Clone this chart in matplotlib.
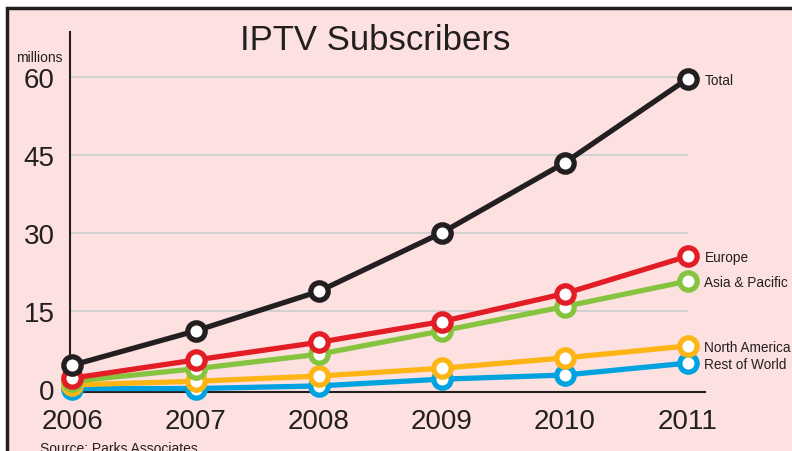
import matplotlib.pyplot as plt
from matplotlib.patches import Rectangle

plt.rcParams['font.family'] = ['Liberation Sans', 'DejaVu Sans']

# values (millions of subscribers)
years = [2006, 2007, 2008, 2009, 2010, 2011]
total = [4.5, 11.1, 18.7, 30.0, 43.5, 59.7]
europe = [2.0, 5.5, 8.9, 12.9, 18.3, 25.5]
asia_pacific = [1.4, 3.8, 6.6, 11.1, 15.8, 20.7]
north_america = [0.7, 1.4, 2.4, 3.9, 5.9, 8.2]
rest_of_world = [0.0, 0.0, 0.5, 1.8, 2.6, 4.9]

yticks = [0, 15, 30, 45, 60]

bg = '#fde1e1'
dark = '#231f20'

fig = plt.figure(figsize=(7.92, 4.52), dpi=100, facecolor='white')
# pink panel with dark frame (cut off at right and bottom)
fig.patches.append(Rectangle((7 / 792, -0.05), 1.1, (452 - 9) / 452 + 0.05,
                             transform=fig.transFigure, facecolor=bg,
                             edgecolor=dark, linewidth=2.5, zorder=-5))

ax = fig.add_axes([70 / 792, (452 - 393) / 452, 635 / 792, 360 / 452])
ax.set_facecolor('none')
ax.set_xlim(2005.98, 2011.14)
ax.set_ylim(-0.67, 68.7)

for v in yticks[1:]:
    ax.hlines(v, 2005.98, 2011, color='#cfcfcf', linewidth=1.3, zorder=1)

series = [
    (rest_of_world, '#00a3e0', 'Rest of World'),
    (north_america, '#fdb515', 'North America'),
    (asia_pacific, '#86c440', 'Asia & Pacific'),
    (europe, '#e31d25', 'Europe'),
    (total, dark, 'Total'),
]
for vals, col, name in series:
    ax.plot(years, vals, color=col, linewidth=3.8, marker='o',
            markersize=12.5, markerfacecolor='white', markeredgecolor=col,
            markeredgewidth=3.8, zorder=3, clip_on=False)
    ax.annotate(name, (years[-1], vals[-1]), xytext=(12, -0.8),
                textcoords='offset points', va='center', ha='left',
                fontsize=9.8, color=dark, annotation_clip=False)

for s in ['top', 'right']:
    ax.spines[s].set_visible(False)
ax.spines['left'].set_color(dark)
ax.spines['bottom'].set_color(dark)
ax.spines['left'].set_linewidth(1.5)
ax.spines['bottom'].set_linewidth(1.5)

ax.set_xticks(years)
ax.set_xticklabels([str(y) for y in years], fontsize=20, color=dark)
ax.set_yticks(yticks)
ax.set_yticklabels([str(v) for v in yticks], fontsize=20, color=dark)
ax.tick_params(length=0)
ax.tick_params(axis='x', pad=11.5)
ax.tick_params(axis='y', pad=11)

fig.text(375 / 792, 1 - 40 / 452, 'IPTV Subscribers', fontsize=25,
         ha='center', va='center', color=dark)
fig.text(39 / 792, 1 - 58 / 452, 'millions', fontsize=10,
         ha='center', va='center', color=dark)
fig.text(40 / 792, 1 - 449 / 452, 'Source: Parks Associates', fontsize=10,
         ha='left', va='center', color=dark)

fig.savefig('out.png', dpi=100, facecolor='white')
